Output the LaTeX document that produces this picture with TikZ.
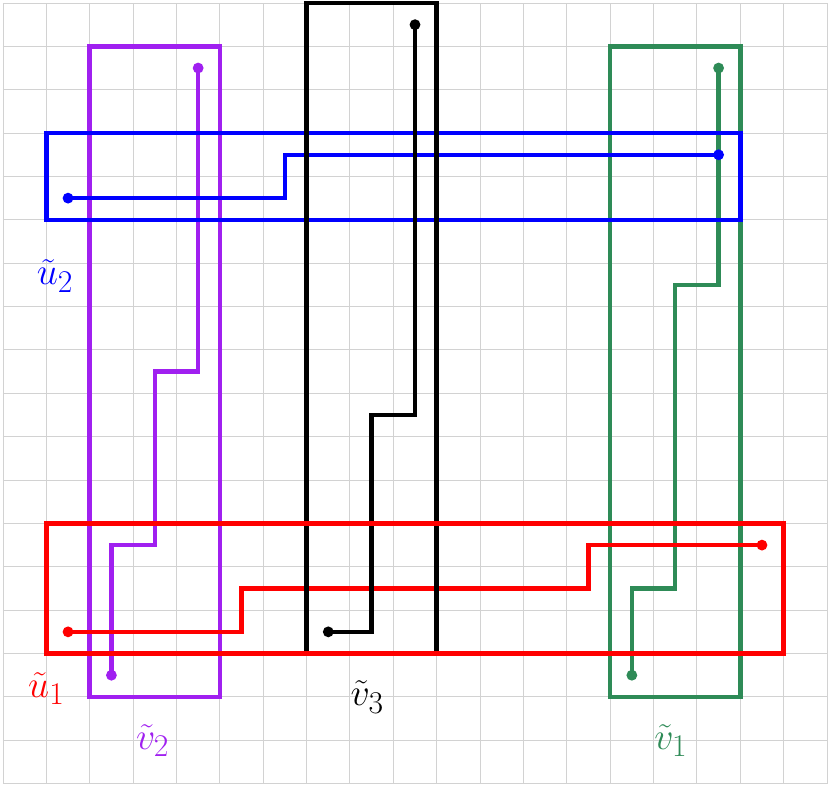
\documentclass[tikz,border=0pt]{standalone}
\usepackage{amsmath}
\definecolor{vpurple}{RGB}{160,32,240}
\definecolor{vgreen}{RGB}{46,139,87}
\begin{document}
\begin{tikzpicture}[x=1cm,y=1cm,
  box/.style={line width=3pt,line join=miter},
  wire/.style={line width=2.9pt,line join=miter},
  dotc/.style={circle,fill,inner sep=0pt,minimum size=0.25cm},
  lab/.style={font=\fontsize{29}{33}\selectfont,inner sep=0pt}]
\useasboundingbox (-0.069,-0.069) rectangle (19.069,18.069);
\draw[gray!35,line width=0.6pt] (0,0) grid (19,18);
% purple v2
\coordinate (p1) at (4.5,16.5);
\coordinate (p2) at (2.5,2.5);
\draw[box,vpurple] (2,2) rectangle (5,17);
\draw[wire,vpurple] (p1) |- (3.5,9.5) |- (2.5,5.5) -- (p2);
\node[dotc,vpurple] at (p1) {};
\node[dotc,vpurple] at (p2) {};
% green v1
\coordinate (g1) at (16.5,16.5);
\coordinate (g2) at (14.5,2.5);
\draw[box,vgreen] (14,2) rectangle (17,17);
\draw[wire,vgreen] (g1) |- (15.5,11.5) |- (14.5,4.5) -- (g2);
\node[dotc,vgreen] at (g1) {};
\node[dotc,vgreen] at (g2) {};
% blue u2
\coordinate (b1) at (1.5,13.5);
\coordinate (b2) at (16.5,14.5);
\draw[box,blue] (1,13) rectangle (17,15);
\draw[wire,blue] (b1) -| (6.5,14.5) -- (b2);
\node[dotc,blue] at (b1) {};
\node[dotc,blue] at (b2) {};
% red path
\coordinate (r1) at (1.5,3.5);
\coordinate (r2) at (17.5,5.5);
\draw[wire,red] (r1) -| (5.5,4.5) -| (13.5,5.5) -- (r2);
\node[dotc,red] at (r1) {};
\node[dotc,red] at (r2) {};
% black v3
\coordinate (k1) at (9.5,17.5);
\coordinate (k2) at (7.5,3.5);
\draw[box,black] (7,3) rectangle (10,18);
\draw[wire,black] (k1) |- (8.5,8.5) |- (k2);
\node[dotc,black] at (k1) {};
\node[dotc,black] at (k2) {};
% red rectangle u1
\draw[box,red] (1,3) rectangle (18,6);
% labels
\node[lab,blue] (lu2) at (1.2,11.7) {$\tilde{u}_2$};
\node[lab,red] (lu1) at (1.0,2.2) {$\tilde{u}_1$};
\node[lab,vpurple] (lv2) at (3.45,1.0) {$\tilde{v}_2$};
\node[lab,black] (lv3) at (8.4,2.0) {$\tilde{v}_3$};
\node[lab,vgreen] (lv1) at (15.4,1.0) {$\tilde{v}_1$};
\end{tikzpicture}
\end{document}
